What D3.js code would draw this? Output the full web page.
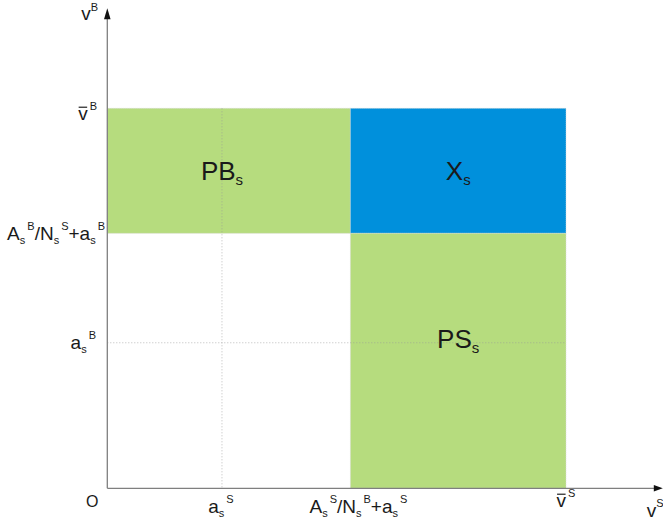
<!DOCTYPE html>
<html>
<head>
<meta charset="utf-8">
<script src="https://cdn.jsdelivr.net/npm/d3@7"></script>
<style>
  html, body { margin: 0; padding: 0; background: #fff; }
  svg { display: block; }
</style>
</head>
<body>
<svg id="chart" width="663" height="525"></svg>
<script>
// ---- data (in abstract model units) ----
const xTickValues = [2.5, 5.3, 10];
const xTickLabels = ["a_s^S", "A_s^S/N_s^B+a_s^S", "v\u0304^S"];
const yTickValues = [3.83, 6.71, 10];
const yTickLabels = ["a_s^B", "A_s^B/N_s^S+a_s^B", "v\u0304^B"];
const xAxisMax = 12.11;
const yAxisMax = 12.63;

const regionNames = ["PB", "X", "PS"];
const regionSubs  = ["s", "s", "s"];
const regionX0 = [0, 5.3, 5.3];
const regionX1 = [5.3, 10, 10];
const regionY0 = [6.71, 6.71, 0];
const regionY1 = [10, 10, 6.71];
const regionLabelX = [2.5, 7.65, 7.65];
const regionLabelY = [8.36, 8.36, 3.95];
const regionKinds = ["green", "blue", "green"];

// ---- style ----
const FONT = "'Liberation Sans', Arial, sans-serif";
const colors = { green: "#b6dc7e", blue: "#0090dc" };

const svg = d3.select("#chart");
const x = d3.scaleLinear().domain([0, 10]).range([107.3, 566]);
const y = d3.scaleLinear().domain([0, 10]).range([488.3, 108.3]);

// ---- regions ----
const regions = regionNames.map((n, i) => ({
  name: n, sub: regionSubs[i],
  x0: regionX0[i], x1: regionX1[i], y0: regionY0[i], y1: regionY1[i],
  lx: regionLabelX[i], ly: regionLabelY[i], kind: regionKinds[i]
}));

svg.append("g").selectAll("rect").data(regions).join("rect")
  .attr("x", d => x(d.x0))
  .attr("y", d => y(d.y1))
  .attr("width", d => x(d.x1) - x(d.x0))
  .attr("height", d => y(d.y0) - y(d.y1))
  .attr("fill", d => colors[d.kind])
  .attr("stroke", "#d8d8d8")
  .attr("stroke-width", 0.8)
  .attr("stroke-dasharray", "1,1");

// ---- dotted guide lines ----
const guides = svg.append("g")
  .attr("stroke", "#9a9a9a")
  .attr("stroke-width", 0.8)
  .attr("stroke-dasharray", "1,2")
  .attr("opacity", 0.8);
guides.append("line")
  .attr("x1", x(xTickValues[0])).attr("x2", x(xTickValues[0]))
  .attr("y1", y(yTickValues[2])).attr("y2", y(0));
guides.append("line")
  .attr("x1", x(0)).attr("x2", x(xTickValues[2]))
  .attr("y1", y(yTickValues[0])).attr("y2", y(yTickValues[0]));

// ---- axes ----
const axisG = svg.append("g");
axisG.append("line")
  .attr("x1", x(0)).attr("y1", y(0))
  .attr("x2", x(0)).attr("y2", y(yAxisMax) + 8)
  .attr("stroke", "#7f7f7f").attr("stroke-width", 1.3);
axisG.append("line")
  .attr("x1", x(0)).attr("y1", y(0))
  .attr("x2", x(xAxisMax) - 7).attr("y2", y(0))
  .attr("stroke", "#7f7f7f").attr("stroke-width", 1.3);
// arrowheads
const ty = y(yAxisMax), tx = x(xAxisMax);
axisG.append("path")
  .attr("d", `M${x(0)},${ty} L${x(0) - 3.3},${ty + 11} L${x(0) + 3.3},${ty + 11} Z`)
  .attr("fill", "#111");
axisG.append("path")
  .attr("d", `M${tx},${y(0)} L${tx - 9},${y(0) - 3.3} L${tx - 9},${y(0) + 3.3} Z`)
  .attr("fill", "#111");

// ---- rich label helper: "_c" subscript, "^c" superscript, U+0304 overline ----
function richLabel(g, str, px, py, anchor, fs, subFs, subDy, supDy, supDx) {
  const tokens = [];
  for (let i = 0; i < str.length; i++) {
    const c = str[i];
    if (c === "_") { tokens.push({ t: str[++i], k: "sub" }); }
    else if (c === "^") { tokens.push({ t: str[++i], k: "sup" }); }
    else if (c === "\u0304") { tokens[tokens.length - 1].bar = true; }
    else { tokens.push({ t: c, k: "main" }); }
  }
  const parts = [];
  tokens.forEach(tk => {
    const last = parts[parts.length - 1];
    if (last && last.k === "main" && tk.k === "main" && !tk.bar && !last.bar) last.t += tk.t;
    else parts.push({ ...tk });
  });
  const text = g.append("text")
    .attr("x", px).attr("y", py)
    .attr("text-anchor", anchor)
    .attr("font-family", FONT)
    .attr("fill", "#1a1a1a");
  let cur = 0, idx = 0;
  const bars = [];
  parts.forEach(p => {
    const target = p.k === "sub" ? subDy : p.k === "sup" ? supDy : 0;
    const ts = text.append("tspan")
      .attr("dy", target - cur)
      .attr("font-size", p.k === "main" ? fs : subFs)
      .text(p.t);
    if (p.k === "sup") ts.attr("dx", supDx);
    if (p.bar) bars.push(idx);
    cur = target;
    idx += p.t.length;
  });
  const node = text.node();
  bars.forEach(ci => {
    const ext = node.getExtentOfChar(ci);
    const yb = py - fs * 0.52 - 3.2;
    g.append("line")
      .attr("x1", ext.x + 0.5).attr("x2", ext.x + ext.width - 0.5)
      .attr("y1", yb).attr("y2", yb)
      .attr("stroke", "#222").attr("stroke-width", 1.2);
  });
  return text;
}

const labels = svg.append("g");

// x tick labels
const xLabelDx = [-1, 8, 0];
const xLabelBase = [25, 25, 19];
xTickValues.forEach((v, i) => {
  richLabel(labels, xTickLabels[i], x(v) + xLabelDx[i], y(0) + xLabelBase[i],
    "middle", 19, 11, 4, -10, 2);
});

// y tick labels
const yLabelEnd = [96, 105, 97];
const yLabelBase = [6.5, 7, 12];
yTickValues.forEach((v, i) => {
  richLabel(labels, yTickLabels[i], yLabelEnd[i], y(v) + yLabelBase[i],
    "end", 19, 11, 4, -10, 2);
});

// axis names and origin
richLabel(labels, "v^B", x(0) - 26, y(yAxisMax) + 11.5, "start", 19, 11, 4, -9, 0);
richLabel(labels, "v^S", tx - 16, y(0) + 29, "start", 19, 11, 4, -10, 0);
labels.append("text")
  .attr("x", x(0) - 15).attr("y", y(0) + 19)
  .attr("text-anchor", "middle")
  .attr("font-family", FONT).attr("font-size", 16)
  .attr("fill", "#1a1a1a")
  .text("O");

// region labels
regions.forEach(d => {
  richLabel(labels, d.name + "_" + d.sub, x(d.lx), y(d.ly) + 9.5,
    "middle", 26, 15, 5, 0, 0);
});
</script>
</body>
</html>
